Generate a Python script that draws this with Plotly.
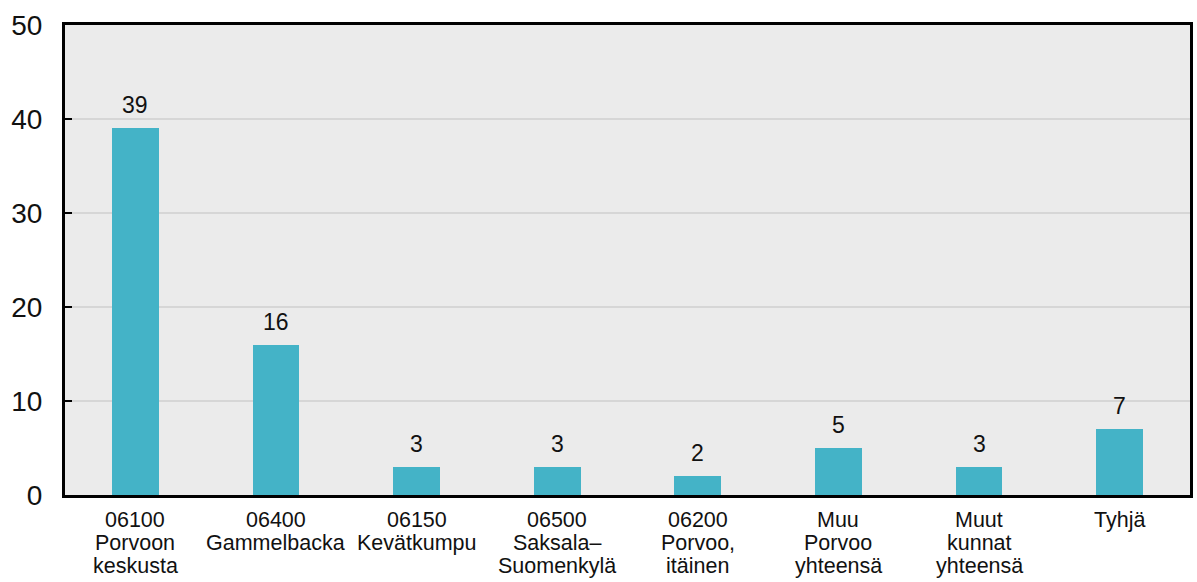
import plotly.graph_objects as go

categories = ["06100<br>Porvoon<br>keskusta", "06400<br>Gammelbacka", "06150<br>Kevätkumpu",
              "06500<br>Saksala–<br>Suomenkylä", "06200<br>Porvoo,<br>itäinen",
              "Muu<br>Porvoo<br>yhteensä", "Muut<br>kunnat<br>yhteensä", "Tyhjä"]
values = [39, 16, 3, 3, 2, 5, 3, 7]
y_ticks = [0, 10, 20, 30, 40, 50]

fig = go.Figure(go.Bar(
    x=categories, y=values, marker=dict(color="#44B3C7", line=dict(width=0)),
    width=0.333,
))
# value labels above bars
for c, v in zip(categories, values):
    fig.add_annotation(x=c, y=v, text=str(v), showarrow=False, yanchor="bottom",
                       yshift=8, font=dict(size=23, color="#111111"))
# category labels with tight line spacing
LINE_PITCH = 23
for c in categories:
    for i, line in enumerate(c.split("<br>")):
        fig.add_annotation(x=c, xref="x", y=0, yref="paper", text=line, showarrow=False,
                           yanchor="top", yshift=-11 - i * LINE_PITCH,
                           font=dict(size=21.5, color="#111111"))
fig.update_layout(
    width=1197, height=582, margin=dict(l=65, r=4, t=25, b=87),
    paper_bgcolor="white", plot_bgcolor="#EBEBEB",
    font=dict(family="Liberation Sans, Arial", color="#111111"),
    showlegend=False, bargap=0,
)
fig.update_yaxes(range=[0, 50], tickvals=y_ticks, showgrid=True, gridcolor="#D6D6D6", gridwidth=2,
                 showline=True, linecolor="black", linewidth=3, mirror=True,
                 ticks="inside", ticklen=7, tickcolor="black", tickwidth=2,
                 tickfont=dict(size=28), zeroline=False, ticklabelstandoff=14)
fig.update_xaxes(showline=True, linecolor="black", linewidth=3, mirror=True,
                 showticklabels=False, ticks="")
fig.write_html("out.html")
